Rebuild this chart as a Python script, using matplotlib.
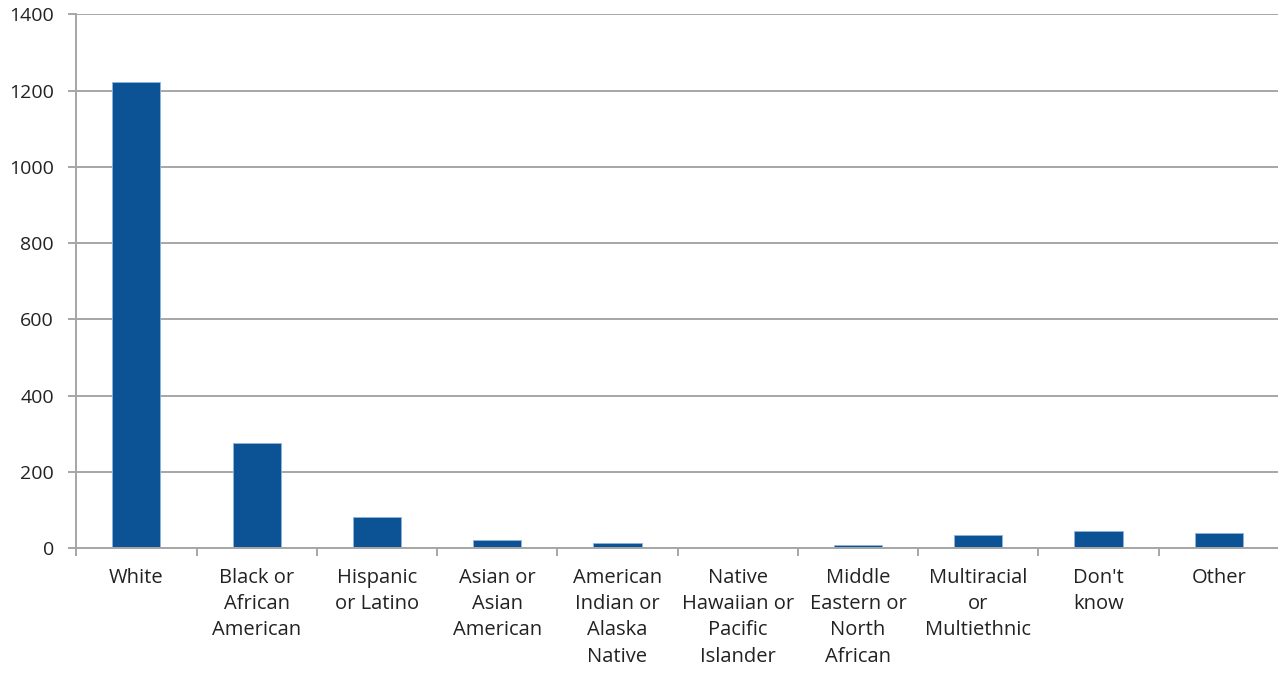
import matplotlib
matplotlib.use("Agg")
import matplotlib.pyplot as plt
import numpy as np

categories = [
    "White",
    "Black or\nAfrican\nAmerican",
    "Hispanic\nor Latino",
    "Asian or\nAsian\nAmerican",
    "American\nIndian or\nAlaska\nNative",
    "Native\nHawaiian or\nPacific\nIslander",
    "Middle\nEastern or\nNorth\nAfrican",
    "Multiracial\nor\nMultiethnic",
    "Don't\nknow",
    "Other",
]
counts = [1222, 275, 81, 23, 15, 0, 8, 35, 45, 39]
y_ticks = [0, 200, 400, 600, 800, 1000, 1200, 1400]

plt.rcParams["font.family"] = ["Open Sans", "DejaVu Sans"]

fig = plt.figure(figsize=(12.78, 6.73), dpi=100)
ax = fig.add_axes([0.0597, 0.1853, 0.9410, 0.7935])

grid_color = "#a6a6a6"
x = np.arange(len(categories))
ax.bar(x, counts, width=0.4, color="#0b5394", edgecolor="#8fb3db",
       linewidth=0.6, zorder=3)

ax.set_xlim(-0.5, len(categories) - 0.5)
ax.set_ylim(0, 1400)
ax.set_yticks(y_ticks)
ax.set_yticklabels([str(v) for v in y_ticks], fontsize=14, color="#222222")
ax.yaxis.grid(True, color=grid_color, linewidth=1.4, zorder=0)

ax.set_xticks(x)
ax.set_xticklabels(categories, fontsize=14.5, color="#222222", linespacing=1.42,
                   va="top")
ax.set_xticks(np.arange(len(categories) + 1) - 0.5, minor=True)
ax.tick_params(axis="x", which="major", length=0, pad=14)
ax.tick_params(axis="x", which="minor", length=6, width=1.4, color=grid_color,
               direction="out")
ax.tick_params(axis="y", length=6, width=1.4, color=grid_color, pad=10)

for side in ["top", "right"]:
    ax.spines[side].set_visible(False)
for side in ["left", "bottom"]:
    ax.spines[side].set_color(grid_color)
    ax.spines[side].set_linewidth(1.4)
    ax.spines[side].set_zorder(4)

fig.savefig("out.png", dpi=100, facecolor="white")
